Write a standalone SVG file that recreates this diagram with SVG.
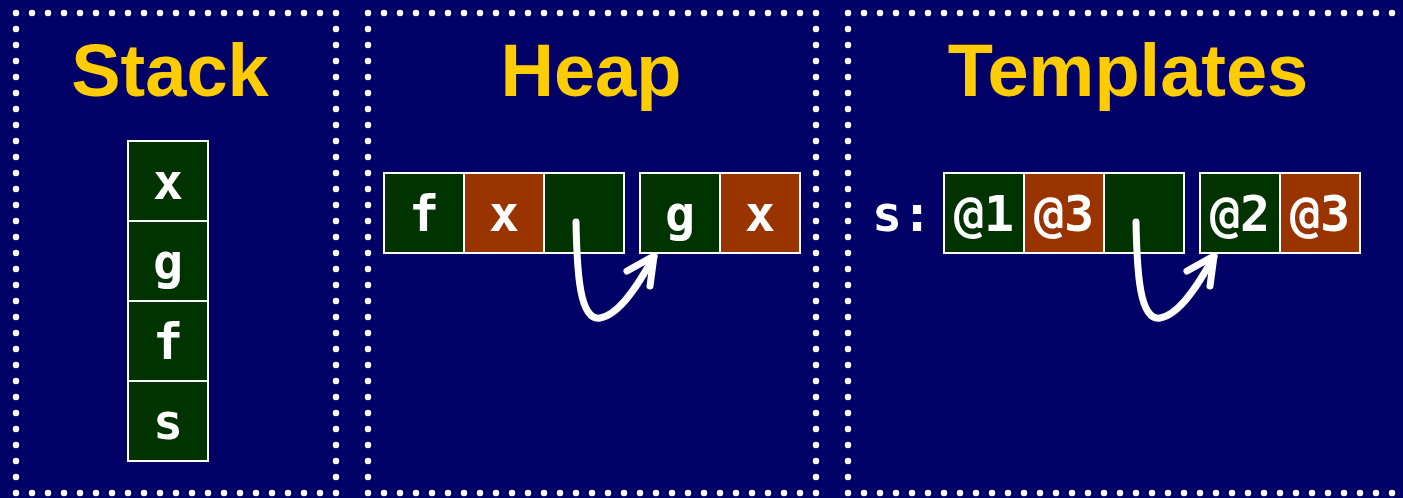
<svg xmlns="http://www.w3.org/2000/svg" width="1403" height="498" viewBox="0 0 1403 498">
  <style>
    .frame { fill: none; stroke: #ffffff; stroke-width: 6.5; stroke-linecap: round; stroke-dasharray: 0 16; }
    .title { font-family: "Liberation Sans", Arial, sans-serif; font-weight: bold; font-size: 74px; fill: #ffcc00; text-anchor: middle; }
    .cell { stroke: #ffffff; stroke-width: 2; }
    .g { fill: #003300; }
    .o { fill: #993300; }
    .lbl { font-family: "DejaVu Sans Mono", monospace; font-weight: bold; font-size: 50px; fill: #ffffff; text-anchor: middle; }
    .arrow { fill: none; stroke: #ffffff; stroke-width: 7; stroke-linecap: round; stroke-linejoin: round; }
  </style>
  <defs>
    <g id="curl">
      <path class="arrow" d="M576,222 C577,275 580,321 600,318 C620,315 640,282 654,256"/>
      <path class="arrow" d="M627,271 L654,256 L650,286"/>
    </g>
  </defs>
  <rect width="1403" height="498" fill="#000066"/>

  <!-- dotted panel frames -->
  <path class="frame" d="M16,13 H336 V493 H16 Z"/>
  <path class="frame" d="M368,13 H816 V493 H368 Z"/>
  <path class="frame" d="M848,13 H1424 V493 H848 Z"/>

  <!-- titles -->
  <text class="title" x="170" y="96">Stack</text>
  <text class="title" x="591" y="96">Heap</text>
  <text class="title" x="1128" y="96">Templates</text>

  <!-- stack column -->
  <g id="stack">
    <rect class="cell g" x="128" y="141" width="80" height="80"/>
    <rect class="cell g" x="128" y="221" width="80" height="80"/>
    <rect class="cell g" x="128" y="301" width="80" height="80"/>
    <rect class="cell g" x="128" y="381" width="80" height="80"/>
    <text class="lbl" x="168" y="199">x</text>
    <text class="lbl" x="168" y="279">g</text>
    <text class="lbl" x="168" y="359">f</text>
    <text class="lbl" x="168" y="439">s</text>
  </g>

  <!-- heap records -->
  <g id="heap-f">
    <rect class="cell g" x="384" y="173" width="80" height="80"/>
    <rect class="cell o" x="464" y="173" width="80" height="80"/>
    <rect class="cell g" x="544" y="173" width="80" height="80"/>
    <text class="lbl" x="424" y="231">f</text>
    <text class="lbl" x="504" y="231">x</text>
  </g>
  <g id="heap-g">
    <rect class="cell g" x="640" y="173" width="80" height="80"/>
    <rect class="cell o" x="720" y="173" width="80" height="80"/>
    <text class="lbl" x="680" y="231">g</text>
    <text class="lbl" x="760" y="231">x</text>
  </g>

  <!-- template records -->
  <text class="lbl" x="902" y="231">s:</text>
  <g id="tmpl-1">
    <rect class="cell g" x="944" y="173" width="80" height="80"/>
    <rect class="cell o" x="1024" y="173" width="80" height="80"/>
    <rect class="cell g" x="1104" y="173" width="80" height="80"/>
    <text class="lbl" x="984" y="231">@1</text>
    <text class="lbl" x="1064" y="231">@3</text>
  </g>
  <g id="tmpl-2">
    <rect class="cell g" x="1200" y="173" width="80" height="80"/>
    <rect class="cell o" x="1280" y="173" width="80" height="80"/>
    <text class="lbl" x="1240" y="231">@2</text>
    <text class="lbl" x="1320" y="231">@3</text>
  </g>

  <!-- pointers -->
  <g id="connectors">
    <use href="#curl"/>
    <use href="#curl" transform="translate(560,0)"/>
  </g>
</svg>
